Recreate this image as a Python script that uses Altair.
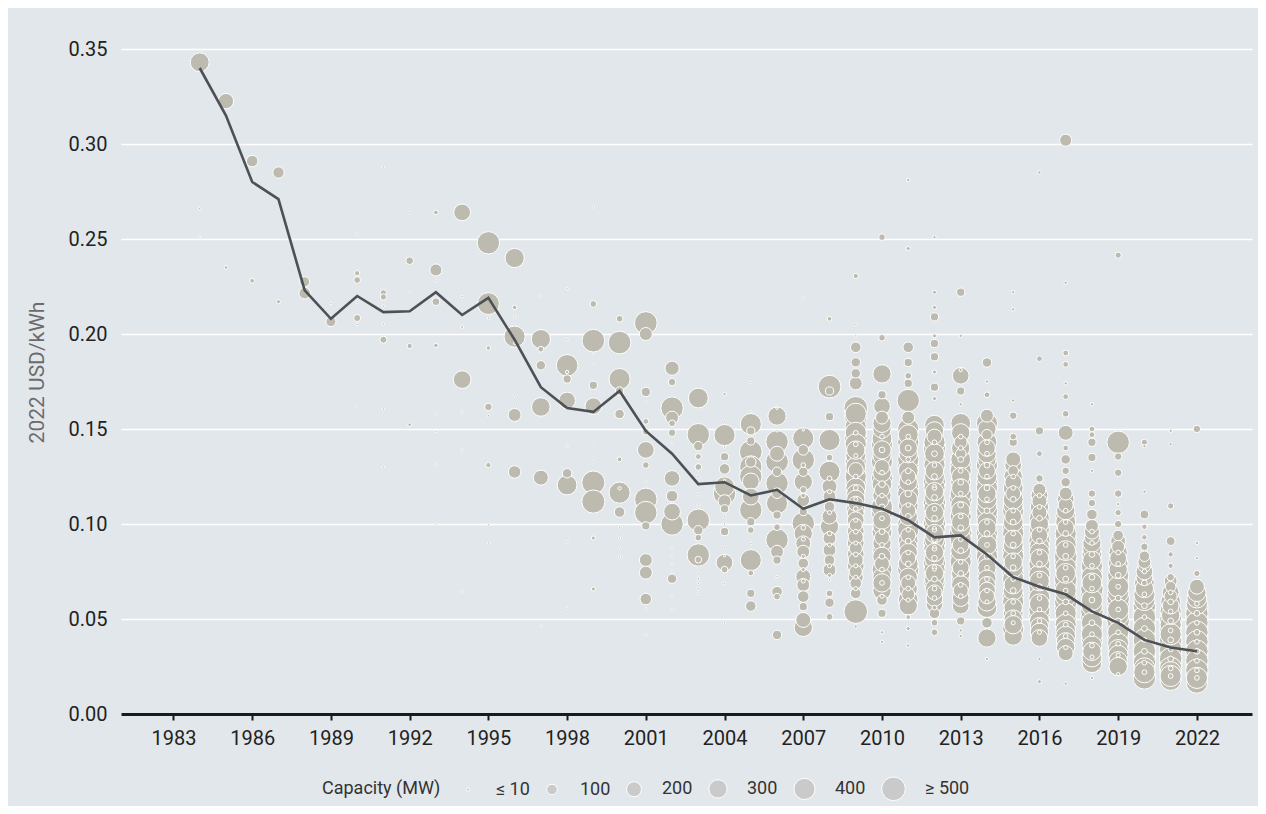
import altair as alt
import pandas as pd

# ---- weighted average line ----
avg_years = list(range(1984, 2023))
avg_lcoe = [0.340, 0.315, 0.280, 0.271, 0.223, 0.208, 0.220, 0.2115, 0.212, 0.222,
            0.210, 0.219, 0.197, 0.172, 0.161, 0.159, 0.170, 0.149, 0.137, 0.121,
            0.122, 0.115, 0.118, 0.108, 0.113, 0.111, 0.108, 0.102, 0.093, 0.094,
            0.084, 0.072, 0.067, 0.063, 0.054, 0.048, 0.039, 0.035, 0.033]

# ---- project points: (LCOE 2022 USD/kWh, capacity MW) per commissioning year ----
p1984 = [(0.343, 320), (0.266, 5), (0.251, 3)]
p1985 = [(0.3226, 210), (0.235, 12)]
p1986 = [(0.291, 120), (0.228, 20)]
p1987 = [(0.285, 115), (0.217, 15)]
p1988 = [(0.2275, 90), (0.2215, 120)]
p1989 = [(0.2065, 90), (0.216, 5), (0.209, 5)]
p1990 = [(0.2525, 5), (0.232, 25), (0.2284, 40), (0.2165, 5), (0.2084, 45), (0.205, 5), (0.1617, 5)]
p1991 = [(0.288, 5), (0.2217, 35), (0.2195, 35), (0.2147, 5), (0.2053, 5), (0.197, 44), (0.1605, 5), (0.130, 5)]
p1992 = [(0.264, 5), (0.2386, 53), (0.222, 5), (0.1937, 25), (0.1523, 12)]
p1993 = [(0.264, 20), (0.2337, 130), (0.228, 5), (0.217, 55), (0.194, 18), (0.158, 5), (0.1486, 5),
         (0.131, 5), (0.100, 5)]
p1994 = [(0.264, 250), (0.2197, 5), (0.2037, 8), (0.176, 280), (0.159, 5), (0.139, 5), (0.0647, 5)]
p1995 = [(0.248, 450), (0.216, 430), (0.2084, 5), (0.1926, 18), (0.1616, 50), (0.157, 5), (0.131, 25),
         (0.0995, 5), (0.090, 5)]
p1996 = [(0.240, 330), (0.214, 18), (0.209, 5), (0.1986, 400), (0.195, 5), (0.168, 5), (0.163, 5),
         (0.1574, 150), (0.1274, 140)]
p1997 = [(0.220, 5), (0.1973, 330), (0.192, 30), (0.1835, 80), (0.1616, 310), (0.1244, 200), (0.0463, 5)]
p1998 = [(0.2238, 5), (0.197, 5), (0.1835, 420), (0.180, 10), (0.1763, 60), (0.165, 250), (0.141, 5),
         (0.1267, 80), (0.1205, 350), (0.0907, 5), (0.0557, 5)]
p1999 = [(0.2668, 5), (0.2158, 40), (0.1965, 460), (0.1895, 5), (0.1842, 5), (0.173, 60), (0.162, 250),
         (0.142, 5), (0.133, 5), (0.1218, 480), (0.1118, 480), (0.0926, 15), (0.0658, 15)]
p2000 = [(0.208, 40), (0.1955, 460), (0.1763, 400), (0.170, 60), (0.1579, 80), (0.134, 20), (0.1188, 10),
         (0.1165, 400), (0.1063, 100), (0.0983, 5), (0.0926, 5), (0.088, 5), (0.0826, 5)]
p2001 = [(0.2058, 460), (0.200, 150), (0.1695, 80), (0.164, 5), (0.154, 30), (0.1485, 40), (0.139, 250),
         (0.131, 40), (0.122, 5), (0.113, 450), (0.106, 450), (0.099, 60), (0.081, 150), (0.0744, 150),
         (0.0605, 120), (0.0553, 5), (0.0416, 5)]
p2002 = [(0.182, 180), (0.1747, 50), (0.161, 450), (0.156, 150), (0.153, 40), (0.148, 50), (0.142, 5),
         (0.124, 220), (0.1147, 120), (0.1065, 250), (0.100, 450), (0.0875, 5), (0.083, 5), (0.079, 5),
         (0.075, 5), (0.0712, 80), (0.062, 5), (0.0553, 5)]
p2003 = [(0.1663, 350), (0.147, 450), (0.141, 80), (0.1355, 30), (0.130, 40), (0.125, 5), (0.1155, 5),
         (0.110, 5), (0.102, 450), (0.0967, 80), (0.0928, 40), (0.0837, 450), (0.0812, 40), (0.074, 5),
         (0.0714, 5), (0.0688, 5), (0.066, 5), (0.0633, 5)]
p2004 = [(0.1684, 10), (0.154, 5), (0.1468, 400), (0.1405, 5), (0.1354, 60), (0.129, 100), (0.123, 5),
         (0.1196, 350), (0.116, 450), (0.112, 150), (0.108, 60), (0.104, 5), (0.100, 5), (0.096, 60),
         (0.0876, 5), (0.0833, 5), (0.0797, 250), (0.076, 40), (0.0686, 5), (0.048, 5)]
p2005 = [(0.1744, 5), (0.159, 5), (0.1526, 400), (0.149, 60), (0.1437, 60), (0.138, 460), (0.1326, 100),
         (0.130, 450), (0.1249, 450), (0.1224, 250), (0.1144, 250), (0.1074, 450), (0.1012, 60),
         (0.0968, 40), (0.0898, 5), (0.081, 400), (0.0742, 30), (0.0635, 60), (0.0568, 100)]
p2006 = [(0.1609, 5), (0.1568, 300), (0.149, 5), (0.1433, 450), (0.137, 200), (0.1328, 460), (0.1275, 80),
         (0.1214, 450), (0.1162, 100), (0.1109, 400), (0.1047, 60), (0.0983, 40), (0.0916, 450),
         (0.0854, 150), (0.081, 60), (0.0723, 5), (0.0644, 100), (0.0618, 40), (0.0416, 80)]
p2007 = [(0.219, 5), (0.1495, 5), (0.1451, 400), (0.139, 100), (0.1337, 450), (0.1275, 80), (0.1222, 300),
         (0.118, 40), (0.1126, 150), (0.1065, 60), (0.1004, 450), (0.095, 300), (0.0898, 200),
         (0.0854, 150), (0.0793, 100), (0.0723, 200), (0.0679, 150), (0.0618, 120), (0.0565, 60),
         (0.0495, 200), (0.0456, 300), (0.131, 20), (0.115, 20), (0.098, 20), (0.092, 15), (0.083, 15),
         (0.076, 15), (0.070, 15)]
p2008 = [(0.208, 20), (0.1723, 460), (0.170, 60), (0.1565, 60), (0.1442, 400), (0.135, 40), (0.1275, 400),
         (0.1197, 200), (0.1144, 150), (0.1091, 100), (0.1039, 200), (0.0986, 300), (0.0925, 150),
         (0.0863, 150), (0.081, 100), (0.0758, 150), (0.0705, 5), (0.0635, 40), (0.0586, 80), (0.0512, 40),
         (0.124, 20), (0.117, 15), (0.106, 15), (0.095, 20), (0.089, 15), (0.078, 15), (0.073, 15)]
p2009 = [(0.2305, 25), (0.205, 5), (0.199, 5), (0.193, 100), (0.1851, 80), (0.1793, 80), (0.174, 150),
         (0.1609, 500), (0.1565, 450), (0.1512, 400), (0.1451, 450), (0.1389, 300), (0.1328, 400),
         (0.1284, 200), (0.1222, 400), (0.116, 300), (0.1107, 200), (0.1056, 250), (0.0995, 150),
         (0.0932, 200), (0.0872, 150), (0.081, 200), (0.0749, 150), (0.0688, 120), (0.0635, 100),
         (0.0539, 500), (0.046, 10), (0.148, 20), (0.142, 20), (0.136, 15), (0.125, 20), (0.119, 20),
         (0.113, 15), (0.108, 20), (0.102, 15), (0.096, 20), (0.090, 15), (0.084, 20), (0.078, 15),
         (0.072, 15), (0.066, 15)]
p2010 = [(0.251, 40), (0.198, 40), (0.179, 300), (0.168, 60), (0.162, 250), (0.156, 150), (0.150, 300),
         (0.142, 400), (0.136, 300), (0.130, 200), (0.124, 400), (0.118, 200), (0.112, 150), (0.106, 400),
         (0.099, 300), (0.093, 200), (0.086, 300), (0.079, 200), (0.072, 300), (0.065, 300), (0.060, 100),
         (0.053, 60), (0.043, 10), (0.038, 10), (0.146, 20), (0.139, 30), (0.127, 20), (0.121, 40),
         (0.115, 20), (0.109, 30), (0.103, 20), (0.096, 30), (0.089, 20), (0.083, 30), (0.076, 20),
         (0.069, 20), (0.062, 15)]
p2011 = [(0.281, 10), (0.245, 15), (0.193, 100), (0.185, 60), (0.178, 40), (0.174, 60), (0.165, 450),
         (0.156, 150), (0.150, 400), (0.143, 400), (0.137, 300), (0.131, 400), (0.125, 200), (0.119, 400),
         (0.113, 300), (0.107, 200), (0.100, 400), (0.094, 200), (0.088, 300), (0.082, 200), (0.076, 400),
         (0.069, 200), (0.063, 150), (0.057, 300), (0.045, 15), (0.036, 10), (0.146, 20), (0.140, 30),
         (0.134, 20), (0.128, 30), (0.122, 20), (0.116, 40), (0.110, 20), (0.104, 30), (0.097, 20),
         (0.091, 30), (0.085, 20), (0.079, 30), (0.072, 20), (0.066, 20), (0.060, 15), (0.051, 20)]
p2012 = [(0.251, 10), (0.222, 15), (0.214, 15), (0.209, 60), (0.199, 15), (0.195, 60), (0.188, 60),
         (0.180, 15), (0.172, 60), (0.166, 15), (0.152, 350), (0.146, 200), (0.140, 450), (0.134, 400),
         (0.128, 300), (0.122, 450), (0.117, 300), (0.111, 450), (0.106, 300), (0.100, 450), (0.095, 300),
         (0.090, 450), (0.085, 300), (0.079, 450), (0.074, 300), (0.069, 400), (0.064, 200), (0.058, 250),
         (0.053, 100), (0.048, 40), (0.043, 40), (0.143, 20), (0.137, 30), (0.131, 20), (0.125, 30),
         (0.119, 20), (0.114, 30), (0.108, 20), (0.103, 30), (0.097, 20), (0.092, 30), (0.087, 20),
         (0.082, 30), (0.077, 20), (0.071, 30), (0.066, 20), (0.061, 20), (0.056, 20), (0.120, 10),
         (0.098, 10), (0.088, 10), (0.076, 10)]
p2013 = [(0.222, 60), (0.199, 10), (0.181, 10), (0.178, 250), (0.170, 60), (0.163, 10), (0.153, 350),
         (0.143, 150), (0.137, 100), (0.131, 400), (0.125, 300), (0.119, 300), (0.113, 450), (0.107, 300),
         (0.101, 300), (0.095, 450), (0.089, 250), (0.083, 400), (0.077, 250), (0.071, 300), (0.065, 200),
         (0.057, 250), (0.049, 60), (0.044, 10), (0.041, 10), (0.146, 20), (0.140, 20), (0.134, 30),
         (0.128, 20), (0.122, 30), (0.116, 20), (0.110, 30), (0.104, 20), (0.098, 30), (0.092, 20),
         (0.086, 30), (0.080, 20), (0.074, 30), (0.068, 20), (0.062, 20)]
p2014 = [(0.185, 80), (0.175, 10), (0.168, 30), (0.157, 150), (0.153, 400), (0.147, 100), (0.140, 250),
         (0.134, 300), (0.128, 250), (0.122, 400), (0.116, 300), (0.110, 350), (0.104, 400), (0.098, 300),
         (0.092, 350), (0.086, 400), (0.080, 300), (0.074, 300), (0.068, 250), (0.062, 200), (0.056, 350),
         (0.048, 100), (0.040, 300), (0.029, 10), (0.143, 20), (0.137, 20), (0.131, 30), (0.125, 20),
         (0.119, 30), (0.113, 20), (0.107, 30), (0.101, 20), (0.095, 30), (0.089, 20), (0.083, 30),
         (0.077, 20), (0.071, 20), (0.065, 20), (0.059, 15)]
p2015 = [(0.222, 10), (0.213, 10), (0.165, 10), (0.157, 50), (0.146, 40), (0.143, 60), (0.134, 200),
         (0.128, 100), (0.122, 250), (0.116, 200), (0.110, 350), (0.104, 250), (0.098, 400), (0.092, 300),
         (0.086, 400), (0.080, 300), (0.074, 400), (0.068, 300), (0.062, 400), (0.056, 300), (0.050, 300),
         (0.045, 400), (0.041, 300), (0.125, 20), (0.119, 20), (0.113, 30), (0.107, 20), (0.101, 30),
         (0.095, 20), (0.089, 30), (0.083, 20), (0.077, 30), (0.071, 20), (0.065, 30), (0.059, 20),
         (0.053, 20), (0.048, 15)]
p2016 = [(0.285, 10), (0.187, 30), (0.149, 60), (0.137, 30), (0.124, 50), (0.118, 150), (0.112, 200),
         (0.106, 200), (0.100, 300), (0.094, 250), (0.088, 350), (0.082, 300), (0.076, 400), (0.070, 350),
         (0.064, 400), (0.058, 350), (0.052, 400), (0.046, 300), (0.040, 250), (0.029, 10), (0.017, 15),
         (0.115, 20), (0.109, 20), (0.103, 30), (0.097, 20), (0.091, 30), (0.085, 20), (0.079, 30),
         (0.073, 20), (0.067, 30), (0.061, 20), (0.055, 20), (0.049, 20), (0.043, 15)]
p2017 = [(0.302, 130), (0.227, 10), (0.190, 30), (0.184, 30), (0.174, 10), (0.167, 30), (0.158, 40),
         (0.148, 200), (0.140, 30), (0.134, 80), (0.128, 50), (0.122, 80), (0.116, 150), (0.110, 200),
         (0.104, 350), (0.098, 250), (0.092, 400), (0.086, 350), (0.080, 450), (0.074, 350), (0.068, 450),
         (0.062, 400), (0.056, 450), (0.050, 400), (0.044, 350), (0.038, 300), (0.032, 200), (0.016, 10),
         (0.107, 20), (0.101, 20), (0.095, 30), (0.089, 20), (0.083, 30), (0.077, 20), (0.071, 30),
         (0.065, 20), (0.059, 30), (0.053, 20), (0.047, 20), (0.041, 20), (0.035, 15)]
p2018 = [(0.163, 10), (0.150, 30), (0.147, 30), (0.143, 60), (0.135, 60), (0.128, 10), (0.116, 50),
         (0.111, 50), (0.105, 100), (0.099, 150), (0.093, 200), (0.087, 300), (0.081, 300), (0.075, 400),
         (0.069, 350), (0.063, 450), (0.057, 400), (0.051, 450), (0.045, 400), (0.039, 400), (0.033, 300),
         (0.027, 350), (0.019, 10), (0.096, 20), (0.090, 20), (0.084, 30), (0.078, 20), (0.072, 30),
         (0.066, 20), (0.060, 30), (0.054, 20), (0.048, 30), (0.042, 20), (0.036, 20), (0.030, 15)]
p2019 = [(0.2415, 35), (0.143, 450), (0.1355, 50), (0.127, 50), (0.116, 50), (0.1105, 10), (0.106, 35),
         (0.100, 50), (0.094, 100), (0.088, 150), (0.082, 250), (0.076, 300), (0.070, 400), (0.064, 400),
         (0.058, 450), (0.052, 400), (0.046, 450), (0.040, 400), (0.034, 350), (0.028, 300), (0.021, 10),
         (0.085, 20), (0.079, 20), (0.073, 30), (0.067, 20), (0.061, 30), (0.055, 20), (0.049, 30),
         (0.043, 20), (0.037, 20), (0.031, 15)]
p2020 = [(0.143, 35), (0.141, 10), (0.117, 10), (0.105, 70), (0.0985, 25), (0.093, 25), (0.088, 50),
         (0.083, 100), (0.078, 150), (0.072, 250), (0.066, 300), (0.060, 400), (0.054, 450), (0.048, 450),
         (0.042, 450), (0.036, 450), (0.030, 450), (0.024, 400), (0.019, 450), (0.075, 20), (0.069, 30),
         (0.063, 20), (0.057, 30), (0.051, 20), (0.045, 30), (0.039, 20), (0.033, 30), (0.027, 20),
         (0.022, 20)]
p2021 = [(0.149, 10), (0.142, 10), (0.1095, 35), (0.091, 70), (0.084, 25), (0.078, 25), (0.072, 50),
         (0.067, 100), (0.062, 150), (0.057, 250), (0.052, 300), (0.047, 400), (0.042, 400), (0.037, 450),
         (0.032, 450), (0.027, 450), (0.022, 400), (0.018, 400), (0.064, 20), (0.059, 30), (0.054, 20),
         (0.049, 30), (0.044, 20), (0.039, 30), (0.034, 20), (0.029, 30), (0.024, 20), (0.020, 20)]
p2022 = [(0.150, 50), (0.090, 10), (0.082, 10), (0.074, 35), (0.067, 200), (0.061, 350), (0.056, 450),
         (0.051, 450), (0.046, 450), (0.041, 450), (0.036, 450), (0.031, 450), (0.026, 450), (0.021, 450),
         (0.0165, 400), (0.058, 20), (0.053, 30), (0.048, 20), (0.043, 30), (0.038, 20), (0.033, 30),
         (0.028, 20), (0.023, 20), (0.019, 20)]

# further large projects packed inside the dense columns (interleaved)
e2009 = [(0.158, 400), (0.148, 400), (0.142, 400), (0.136, 350), (0.130, 350), (0.125, 400), (0.119, 350),
         (0.113, 300), (0.108, 300), (0.102, 250), (0.096, 250), (0.090, 250), (0.084, 250), (0.078, 250),
         (0.072, 200)]
e2010 = [(0.153, 300), (0.145, 350), (0.139, 300), (0.133, 400), (0.127, 300), (0.121, 350), (0.115, 300),
         (0.109, 400), (0.102, 300), (0.096, 350), (0.090, 300), (0.083, 300), (0.076, 350), (0.069, 300)]
e2011 = [(0.147, 350), (0.140, 300), (0.134, 400), (0.128, 350), (0.122, 300), (0.116, 400), (0.110, 350),
         (0.104, 300), (0.097, 400), (0.091, 350), (0.085, 300), (0.079, 350), (0.072, 300), (0.066, 300),
         (0.060, 350)]
e2012 = [(0.149, 300), (0.143, 400), (0.137, 350), (0.131, 400), (0.125, 350), (0.119, 400), (0.114, 350),
         (0.108, 400), (0.103, 350), (0.097, 400), (0.092, 350), (0.087, 400), (0.082, 350), (0.076, 400),
         (0.071, 350), (0.066, 300), (0.061, 250)]
e2013 = [(0.148, 300), (0.140, 300), (0.134, 350), (0.128, 400), (0.122, 350), (0.116, 400), (0.110, 350),
         (0.104, 400), (0.098, 350), (0.092, 400), (0.086, 350), (0.080, 400), (0.074, 300), (0.068, 300),
         (0.061, 250)]
e2014 = [(0.150, 300), (0.143, 350), (0.137, 300), (0.131, 400), (0.125, 350), (0.119, 400), (0.113, 350),
         (0.107, 400), (0.101, 350), (0.095, 400), (0.089, 350), (0.083, 400), (0.077, 300), (0.071, 300),
         (0.065, 250), (0.059, 300)]
e2015 = [(0.131, 250), (0.125, 300), (0.119, 350), (0.113, 350), (0.107, 400), (0.101, 350), (0.095, 400),
         (0.089, 350), (0.083, 400), (0.077, 350), (0.071, 400), (0.065, 350), (0.059, 400), (0.053, 350),
         (0.047, 300)]
e2016 = [(0.115, 250), (0.109, 300), (0.103, 350), (0.097, 350), (0.091, 400), (0.085, 350), (0.079, 400),
         (0.073, 400), (0.067, 400), (0.061, 400), (0.055, 400), (0.049, 350), (0.043, 300)]
e2017 = [(0.113, 250), (0.107, 300), (0.101, 350), (0.095, 400), (0.089, 400), (0.083, 450), (0.077, 400),
         (0.071, 450), (0.065, 400), (0.059, 450), (0.053, 400), (0.047, 400), (0.041, 350), (0.035, 300)]
e2018 = [(0.096, 200), (0.090, 300), (0.084, 350), (0.078, 400), (0.072, 400), (0.066, 450), (0.060, 400),
         (0.054, 450), (0.048, 400), (0.042, 400), (0.036, 350), (0.030, 350)]
e2019 = [(0.091, 200), (0.085, 300), (0.079, 350), (0.073, 400), (0.067, 400), (0.061, 450), (0.055, 400),
         (0.049, 450), (0.043, 400), (0.037, 400), (0.031, 350), (0.025, 300)]
e2020 = [(0.080, 150), (0.075, 250), (0.069, 350), (0.063, 400), (0.057, 450), (0.051, 450), (0.045, 450),
         (0.039, 450), (0.033, 450), (0.027, 450), (0.022, 400)]
e2021 = [(0.070, 150), (0.064, 250), (0.059, 350), (0.054, 400), (0.049, 450), (0.044, 450), (0.039, 450),
         (0.034, 450), (0.029, 450), (0.024, 450), (0.020, 400)]
e2022 = [(0.064, 300), (0.058, 400), (0.053, 450), (0.048, 450), (0.043, 450), (0.038, 450), (0.033, 450),
         (0.028, 450), (0.023, 450), (0.019, 400)]

point_years = [
    (1984, p1984), (1985, p1985), (1986, p1986), (1987, p1987), (1988, p1988), (1989, p1989),
    (1990, p1990), (1991, p1991), (1992, p1992), (1993, p1993), (1994, p1994), (1995, p1995),
    (1996, p1996), (1997, p1997), (1998, p1998), (1999, p1999), (2000, p2000), (2001, p2001),
    (2002, p2002), (2003, p2003), (2004, p2004), (2005, p2005), (2006, p2006), (2007, p2007),
    (2008, p2008), (2009, p2009), (2010, p2010), (2011, p2011), (2012, p2012), (2013, p2013),
    (2014, p2014), (2015, p2015), (2016, p2016), (2017, p2017), (2018, p2018), (2019, p2019),
    (2020, p2020), (2021, p2021), (2022, p2022),
    (2009, e2009), (2010, e2010), (2011, e2011), (2012, e2012), (2013, e2013), (2014, e2014),
    (2015, e2015), (2016, e2016), (2017, e2017), (2018, e2018), (2019, e2019), (2020, e2020),
    (2021, e2021), (2022, e2022),
]

x_ticks = [1983, 1986, 1989, 1992, 1995, 1998, 2001, 2004, 2007, 2010, 2013, 2016, 2019, 2022]
y_ticks = [0.0, 0.05, 0.10, 0.15, 0.20, 0.25, 0.30, 0.35]
legend_values = [10, 100, 200, 300, 400, 500]

rows = []
for yr, pts in point_years:
    for lc, mw in pts:
        rows.append({"year": yr, "lcoe": lc, "mw": mw, "kind": "project"})
pts_df = pd.DataFrame(rows).sort_values("mw", ascending=False, kind="stable").reset_index(drop=True)
pts_df["rank"] = range(len(pts_df))
avg_df = pd.DataFrame({"year": avg_years, "lcoe": avg_lcoe})

FONT = "Roboto"
x_enc = alt.X("year:Q", scale=alt.Scale(domain=[1981, 2024.1], nice=False, zero=False),
              axis=alt.Axis(values=x_ticks, format="d", title=None, grid=False,
                            domainColor="#1a1a1a", domainWidth=3, tickColor="#1a1a1a",
                            tickWidth=2, tickSize=6, labelFontSize=20, labelColor="#222222",
                            labelPadding=8, labelFont=FONT))
y_enc = alt.Y("lcoe:Q", scale=alt.Scale(domain=[0, 0.36], nice=False),
              axis=alt.Axis(values=y_ticks, format=".2f", title="2022 USD/kWh",
                            grid=True, gridColor="#ffffff", gridWidth=1.5, domain=False, ticks=False,
                            labelFontSize=20, labelColor="#222222", labelPadding=14, labelFont=FONT,
                            titleFontSize=21, titleColor="#6b6b6b", titleFontWeight="normal",
                            titleFont=FONT, titlePadding=21))

points = alt.Chart(pts_df).mark_circle(
    opacity=1, stroke="#ffffff", strokeWidth=1
).encode(
    x=x_enc,
    y=y_enc,
    color=alt.Color("kind:N", scale=alt.Scale(range=["#bdbbaf"]), legend=None),
    size=alt.Size("mw:Q",
                  scale=alt.Scale(type="linear", domain=[0, 500], range=[0, 560], zero=True, clamp=True),
                  legend=alt.Legend(values=legend_values, title="Capacity (MW)", orient="none",
                                    legendX=201, legendY=746, direction="horizontal",
                                    titleOrient="left", titleFontWeight="normal", titleFontSize=18,
                                    titleColor="#333333", titleFont=FONT, titlePadding=18,
                                    labelFontSize=18, labelColor="#333333", labelFont=FONT,
                                    labelOffset=19, columnPadding=13, symbolType="circle",
                                    symbolFillColor="#cacaca", symbolStrokeColor="#ffffff",
                                    symbolStrokeWidth=1, symbolOpacity=1,
                                    labelExpr="datum.value <= 10 ? '≤ 10' : datum.value >= 500 ? '≥ 500' : datum.label")),
    order=alt.Order("rank:Q"),
)

line = alt.Chart(avg_df).mark_line(color="#4d5055", strokeWidth=2.6).encode(
    x="year:Q", y="lcoe:Q"
)

chart = alt.layer(points, line).properties(
    width=1131, height=684,
    autosize=alt.AutoSizeParams(type="none"),
    padding={"left": 113, "top": 22, "right": 6, "bottom": 92},
    background="#e2e7eb",
).configure_view(stroke=None).configure_legend(symbolFillColor="#cacaca")

chart.save("out.html", embed_options={"renderer": "svg", "actions": False})
